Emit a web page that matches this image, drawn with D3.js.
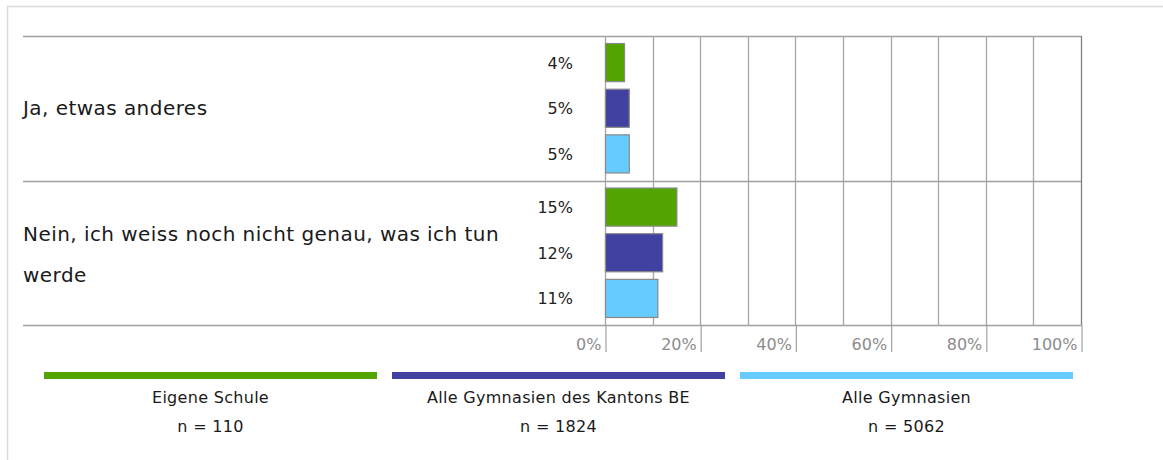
<!DOCTYPE html>
<html>
<head>
<meta charset="utf-8">
<script src="https://cdn.jsdelivr.net/npm/d3@7"></script>
<style>
  html, body { margin: 0; padding: 0; background: #fff; }
  svg { display: block; }
  text { font-family: "DejaVu Sans", sans-serif; }
</style>
</head>
<body>
<div id="chart"></div>
<script>
// Answer categories (label lines for wrapping)
const categories = ["Ja, etwas anderes", "Nein, ich weiss noch nicht genau, was ich tun werde"];
const categoryLines = [["Ja, etwas anderes"], ["Nein, ich weiss noch nicht genau, was ich tun", "werde"]];

// Comparison groups
const seriesNames = ["Eigene Schule", "Alle Gymnasien des Kantons BE", "Alle Gymnasien"];
const seriesN = ["n = 110", "n = 1824", "n = 5062"];

// Shares per category, one array per series (percent)
const eigeneSchule = [4, 15];
const kantonBE = [5, 12];
const alleGymnasien = [5, 11];

// Axis ticks
const tickValues = [0, 20, 40, 60, 80, 100];
const gridValues = [0, 10, 20, 30, 40, 50, 60, 70, 80, 90, 100];

const seriesValues = [eigeneSchule, kantonBE, alleGymnasien];
const colors = ["#52a500", "#4141a1", "#66ccff"];

const W = 1163, H = 460;
const svg = d3.select("#chart").append("svg").attr("width", W).attr("height", H);

// Outer frame (top and left edges visible)
svg.append("path")
  .attr("d", `M7.5,${H} V6.5 H${W}`)
  .attr("fill", "none").attr("stroke", "#dcdcdc").attr("stroke-width", 1.5);

const x = d3.scaleLinear().domain([0, 100]).range([605, 1081]);
const y = d3.scaleBand().domain(categories).range([36, 325]);
const ySub = d3.scaleBand().domain(seriesNames).range([0, y.bandwidth()]).padding(0.165);

// Vertical gridlines
svg.append("g").selectAll("line").data(gridValues).join("line")
  .attr("x1", d => Math.round(x(d)) + 0.5).attr("x2", d => Math.round(x(d)) + 0.5)
  .attr("y1", 36).attr("y2", 325)
  .attr("stroke", d => d === 100 ? "#808080" : "#a6a6a6").attr("stroke-width", 1.3);

// Axis with long ticks and labels left of each tick
const axis = d3.axisBottom(x).tickValues(tickValues).tickSize(27).tickFormat(d => d + "%");
const gAxis = svg.append("g").attr("transform", "translate(0,325)").call(axis);
gAxis.select(".domain").remove();
gAxis.selectAll(".tick line").attr("stroke", "#a6a6a6").attr("stroke-width", 1.3)
  .attr("transform", "translate(0.5,0)");
gAxis.selectAll(".tick text")
  .attr("text-anchor", "end").attr("x", -4).attr("y", 25).attr("dy", 0)
  .attr("fill", "#8c8c8c").style("font-size", "16px");

// Horizontal category separators
const seps = [36, ...categories.map(c => y(c) + y.bandwidth())];
svg.append("g").selectAll("line").data(seps).join("line")
  .attr("x1", 23).attr("x2", 1081)
  .attr("y1", d => Math.round(d) + 0.5).attr("y2", d => Math.round(d) + 0.5)
  .attr("stroke", "#a0a0a0").attr("stroke-width", 1.3);

// Bars and value labels
const groups = svg.append("g").selectAll("g").data(categories).join("g")
  .attr("transform", c => `translate(0,${y(c)})`);

groups.each(function (c, ci) {
  const g = d3.select(this);
  seriesNames.forEach((s, si) => {
    const v = seriesValues[si][ci];
    g.append("rect")
      .attr("x", x(0) + 0.5).attr("y", ySub(s))
      .attr("width", x(v) - x(0)).attr("height", ySub.bandwidth())
      .attr("fill", colors[si]).attr("stroke", "#8a8a8a").attr("stroke-width", 1.2);
    g.append("text")
      .attr("x", 573).attr("y", ySub(s) + ySub.bandwidth() / 2)
      .attr("dy", "0.38em").attr("text-anchor", "end")
      .attr("fill", "#222").style("font-size", "16px")
      .text(v + "%");
  });
  const lines = categoryLines[ci];
  const lh = 41;
  const cy = y.bandwidth() / 2;
  lines.forEach((ln, li) => {
    g.append("text")
      .attr("x", 23).attr("y", cy + (li - (lines.length - 1) / 2) * lh + (lines.length > 1 ? 1.5 : 0))
      .attr("dy", "0.36em").attr("fill", "#1a1a1a")
      .style("font-size", "20px").style("letter-spacing", "0.45px")
      .text(ln);
  });
});

// Legend
const legendX = d3.scaleBand().domain(seriesNames).range([44, 1073]).paddingInner(0.043);
const lg = svg.append("g").selectAll("g").data(seriesNames).join("g")
  .attr("transform", s => `translate(${legendX(s)},0)`);
lg.append("rect").attr("x", 0).attr("y", 372).attr("width", legendX.bandwidth()).attr("height", 7)
  .attr("fill", (s, i) => colors[i]);
lg.append("text").attr("x", legendX.bandwidth() / 2).attr("y", 403)
  .attr("text-anchor", "middle").attr("fill", "#1a1a1a")
  .style("font-size", "16px").style("letter-spacing", "0.3px")
  .text(s => s);
lg.append("text").attr("x", legendX.bandwidth() / 2).attr("y", 432)
  .attr("text-anchor", "middle").attr("fill", "#1a1a1a")
  .style("font-size", "16px").style("letter-spacing", "0.3px")
  .text((s, i) => seriesN[i]);
</script>
</body>
</html>
